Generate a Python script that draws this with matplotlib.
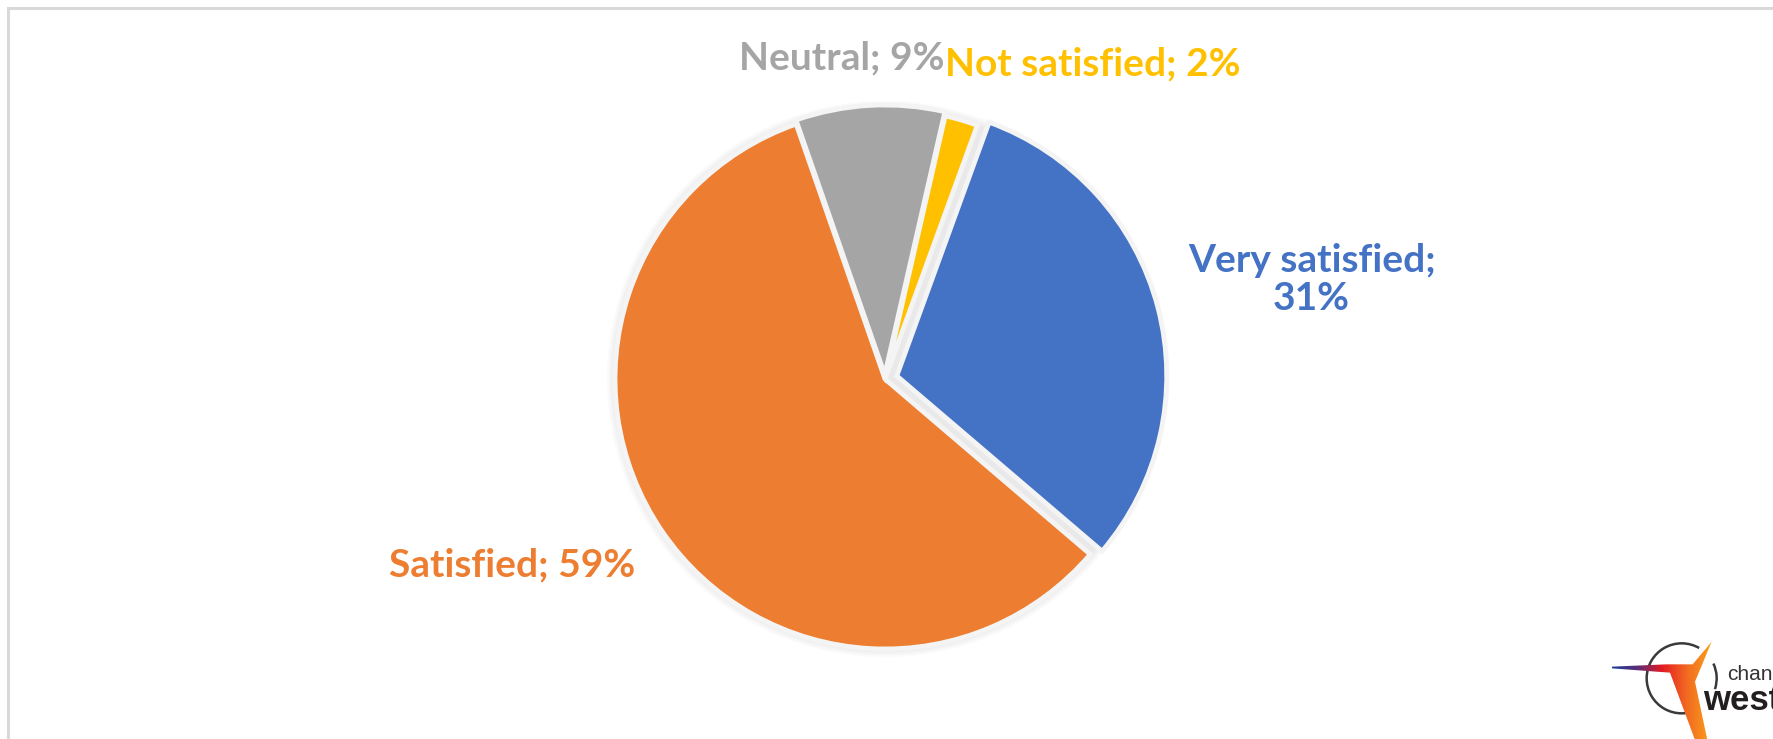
import numpy as np
import matplotlib
matplotlib.use('Agg')
import matplotlib.pyplot as plt
from matplotlib.patches import Rectangle, Polygon, Arc, Circle
from matplotlib.colors import LinearSegmentedColormap

# data, in Excel series order (first slice drawn clockwise from a 20 degree rotation)
categories = ['Very satisfied', 'Satisfied', 'Neutral', 'Not satisfied']
shares = [31, 59, 9, 2]
slice_colors = ['#4472C4', '#ED7D31', '#A5A5A5', '#FFC000']
label_colors = ['#4472C4', '#ED7D31', '#A5A5A5', '#FFC000']
label_texts = ['Very satisfied;\n31%', 'Satisfied; 59%', 'Neutral; 9%', 'Not satisfied; 2%']

# label anchor points in pie-radius units (data labels were dragged around in the original)
label_pos = [(1.58, 0.37), (-1.38, -0.69), (-0.16, 1.19), (0.77, 1.165)]

W, H = 1773, 739
fig = plt.figure(figsize=(W / 100, H / 100), dpi=100)
fig.patch.set_facecolor('white')

# light grey chart frame, cut off at right and bottom
fig.patches.append(Rectangle((8 / W, -0.1), 1.2, (H - 8) / H + 0.1, transform=fig.transFigure,
                             fill=False, edgecolor='#d9d9d9', linewidth=2.2))

# pie axes placed in pixels: centre (885, 379 from top), radius 270 px
cx, cy, R = 885, H - 379, 270
lim = 1.25
ax = fig.add_axes([(cx - lim * R) / W, (cy - lim * R) / H, 2 * lim * R / W, 2 * lim * R / H])
ax.axis('off')

# soft shadow halo behind the pie
for k in range(6):
    ax.add_patch(Circle((0, 0), 1.0 + 0.006 * k, color='#c8c8c8', alpha=0.07, zorder=0, lw=0))

wedges, _ = ax.pie(shares, colors=slice_colors, startangle=70, counterclock=False,
                   explode=[0.045, 0, 0.015, 0], radius=1.0,
                   wedgeprops=dict(edgecolor='#f4f4f4', linewidth=3.5), frame=False)
ax.set_xlim(-lim, lim)
ax.set_ylim(-lim, lim)
for w in wedges:
    w.set_zorder(2)

for txt, (lx, ly), col in zip(label_texts, label_pos, label_colors):
    ax.text(lx, ly, txt, ha='center', va='center', color=col, fontsize=28,
            fontfamily='Lato', fontweight='bold', linespacing=1.1, zorder=5)

# partial organisation logo in the bottom right corner
lg = fig.add_axes([1560 / W, 0, (W - 1560) / W, (H - 600) / H])
lg.set_xlim(1560, W)
lg.set_ylim(H, 600)
lg.axis('off')

zx = lambda v: 1560 + v / 3
zy = lambda v: 600 + v / 3
pts = [(155, 200), (320, 193), (398, 193), (455, 125), (405, 245), (442, 420),
       (405, 420), (330, 218), (155, 205)]
shape = Polygon([(zx(a), zy(b)) for a, b in pts], closed=True, facecolor='none', edgecolor='none')
lg.add_patch(shape)
grad_cmap = LinearSegmentedColormap.from_list('logo', ['#1b3f94', '#5a2d7a', '#e31b23', '#f26a21', '#f9a11b'])
grad = np.linspace(0, 1, 200).reshape(1, -1)
im = lg.imshow(grad, cmap=grad_cmap, extent=(zx(155), zx(455), zy(420), zy(125)), aspect='auto', zorder=3)
im.set_clip_path(shape)

lg.add_patch(Arc((zx(365), zy(235)), 2 * 35, 2 * 35, theta1=60, theta2=300, color='#3a3a3a', lw=1.8, zorder=2))
lg.add_patch(Arc((zx(365), zy(235)), 2 * 35, 2 * 35, theta1=-25, theta2=18, color='#3a3a3a', lw=1.8, zorder=2))
lg.text(zx(500), zy(240), 'chan', fontsize=15, color='#333333', fontfamily='Liberation Sans',
        va='baseline', ha='left')
lg.text(zx(430), zy(330), 'west', fontsize=25, color='#231f20', fontfamily='Liberation Sans',
        fontweight='bold', va='baseline', ha='left')

fig.savefig('out.png', dpi=100, facecolor='white')
